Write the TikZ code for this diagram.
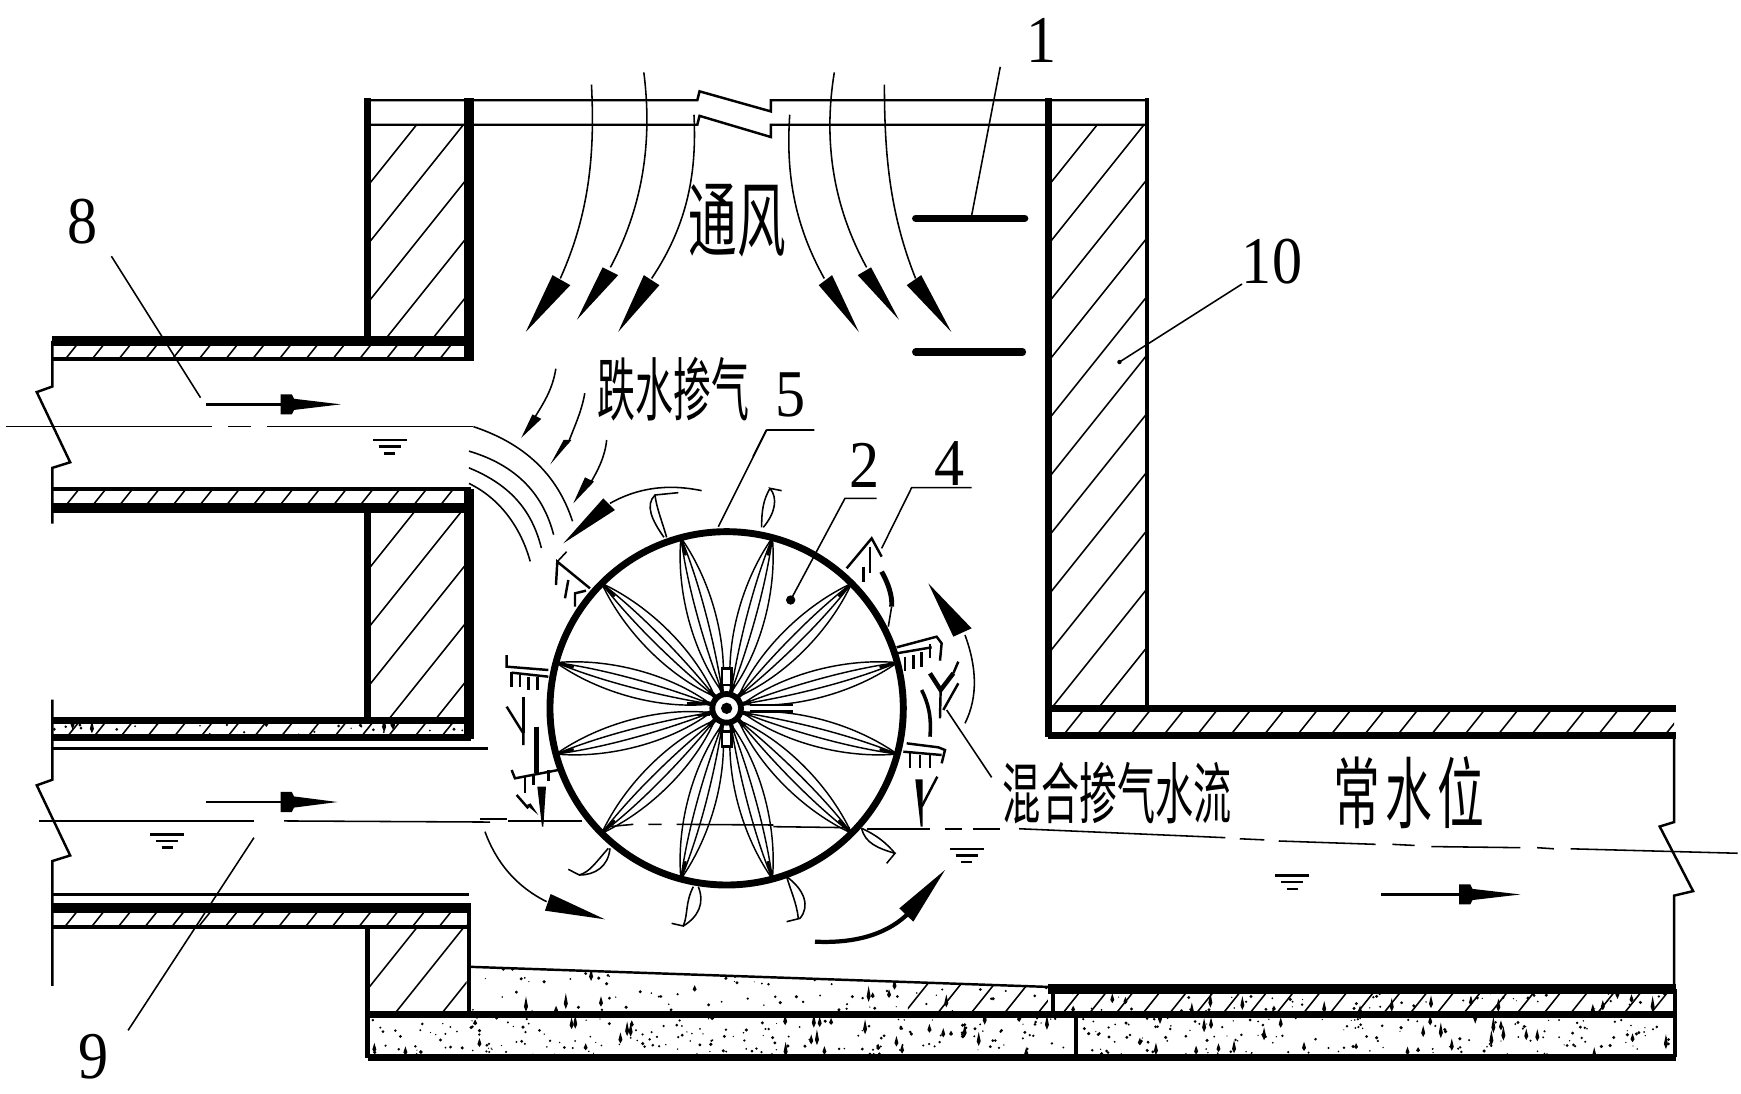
\documentclass[tikz,border=0pt]{standalone}
\usepackage{fontspec}
\setmainfont{Liberation Serif}
\newfontfamily\cjk{Noto Sans CJK SC}
\tikzset{
  wallh/.style={line width=4.2pt},
  wallm/.style={line width=3.2pt},
  medl/.style={line width=1.9pt},
  thinl/.style={line width=1.1pt},
  fine/.style={line width=0.7pt},
  hair/.style={line width=0.65pt},
  num/.style={font=\fontsize{30}{30}\selectfont,inner sep=0pt,xscale=0.9},
  cjklabel/.style={font=\cjk\fontsize{#1}{#1}\selectfont,inner sep=0pt},
}
\newcommand\hatchbox[5]{% x1 y1 x2 y2 step
  \begin{scope}
    \clip (#1,#2) rectangle (#3,#4);
    \pgfmathsetmacro\hstart{#1-(#4-#2)*0.8}
    \pgfmathsetmacro\hnext{\hstart+#5}
    \foreach \s in {\hstart,\hnext,...,#3}{
      \draw[fine] (\s,#4) -- ++({(#4-#2)*0.8},{-(#4-#2)});
    }
  \end{scope}}
\newcommand\stipple[6]{% x1 y1 x2 y2 count bottom-spikes
  \begin{scope}
    \clip (#1,#2) rectangle (#3,#4);
    \foreach \i in {1,...,#5}{
      \pgfmathsetmacro\px{#1+rnd*(#3-#1)}
      \pgfmathsetmacro\py{#2+rnd*(#4-#2)}
      \pgfmathsetmacro\ps{0.5+rnd*1.1}
      \fill (\px,\py) circle[radius=\ps];
    }
    \foreach \i in {1,...,#6}{
      \pgfmathsetmacro\px{#1+rnd*(#3-#1)}
      \pgfmathsetmacro\ph{3+rnd*7}
      \pgfmathsetmacro\py{#2+rnd*(#4-#2)}
      \fill (\px-1.8,\py) -- (\px,\py-\ph) -- (\px+1.8,\py) -- (\px,\py+\ph*0.5) -- cycle;
    }
  \end{scope}}
\newcommand\flowarrow[4]{% start back tip y
  \draw[thinl] (#1,#4) -- (#2,#4);
  \fill (#2,#4-9) -- (#2+10,#4-9) -- (#2+12,#4-5) -- (#3,#4) -- (#2+12,#4+5) -- (#2+10,#4+9) -- (#2,#4+9) -- cycle;}
\newcommand\levelmark[2]{%
  \draw[thinl] (#1-15,#2) -- (#1+15,#2);
  \draw[thinl] (#1-10,#2+6) -- (#1+10,#2+6);
  \draw[thinl] (#1-5,#2+12) -- (#1+5,#2+12);}
\begin{document}
\begin{tikzpicture}[x=0.5pt,y=-0.5pt]
\useasboundingbox (0,0) rectangle (1563,982);
\pgfmathsetseed{4711}

% ---- hatching
\hatchbox{332}{112}{419}{303}{42}
\hatchbox{943}{112}{1028}{635}{42}
\hatchbox{332}{457}{419}{646}{42}
\hatchbox{332}{833}{419}{910}{42}
\hatchbox{47}{307}{419}{321}{24}
\hatchbox{47}{439}{419}{455}{24}
\hatchbox{47}{816}{419}{831}{24}
\hatchbox{47}{648}{419}{661}{24}
\hatchbox{943}{637}{1503}{659}{30}
\hatchbox{945}{891}{1503}{910}{24}
\begin{scope}
  \clip (423,868) -- (941,886) -- (941,910) -- (423,910) -- cycle;
  \hatchbox{815}{868}{941}{910}{30}
  \stipple{423}{868}{941}{910}{90}{14}
\end{scope}
\stipple{945}{891}{1503}{910}{60}{18}
\stipple{332}{914}{964}{948}{200}{34}
\stipple{968}{914}{1503}{948}{170}{28}
\stipple{47}{648}{419}{661}{30}{6}

% ---- shaft walls
\draw[thinl] (330,90) -- (626,90) -- (628,82) -- (692,100) -- (692,90) -- (1030,90);
\draw[thinl] (330,112) -- (626,112) -- (628,104) -- (692,123) -- (692,112) -- (1030,112);
\draw[wallm] (330,88) -- (330,305);
\draw[wallh] (421,88) -- (421,324);
\draw[wallm] (941,88) -- (941,662);
\draw[medl] (1030,88) -- (1030,635);

% ---- upper pipe
\draw[wallh] (47,306) -- (423,306);
\draw[medl] (47,322) -- (421,322);
\draw[thinl] (47,306) -- (47,347) -- (33,352) -- (63,415) -- (47,420) -- (47,470);
\draw[medl] (47,439) -- (423,439);
\draw[wallh] (47,456) -- (423,456);

% ---- middle wall
\draw[wallm] (330,456) -- (330,647);
\draw[wallh] (421,439) -- (421,663);

% ---- lower pipe
\draw[wallm] (47,647) -- (423,647);
\draw[wallm] (47,662) -- (423,662);
\draw[thinl] (47,628) -- (47,700) -- (33,705) -- (63,768) -- (47,773) -- (47,885);
\draw[thinl] (47,672) -- (438,672);
\draw[thinl] (47,803) -- (421,803);
\draw[wallh] (47,815) -- (423,815);
\draw[medl] (47,832) -- (421,832);
\draw[medl] (330,832) -- (330,950);
\draw[medl] (421,815) -- (421,912);

% ---- outlet channel
\draw[wallm] (941,636) -- (1505,636);
\draw[wallm] (941,660) -- (1505,660);
\draw[thinl] (1503,660) -- (1503,738) -- (1490,742) -- (1520,800) -- (1503,804) -- (1503,888);
\draw[wallh] (941,888) -- (1505,888);
\draw[wallm] (330,911) -- (1505,911);
\draw[wallm] (330,949) -- (1505,949);
\draw[medl] (966,911) -- (966,949);
\draw[medl] (945,888) -- (945,911);
\draw[medl] (1504,888) -- (1504,949);
\draw[thinl] (423,868) -- (941,886);

% ---- ventilation plates and leader 1
\draw[wallm,line cap=round] (822,196) -- (920,196);
\draw[wallm,line cap=round] (822,316) -- (918,316);

% ---- air arrows
\draw[fine] (531,76) .. controls (534,135) and (530,190) .. (503,250);
\fill (472,298) -- (496,247) -- (512,256) -- cycle;
\draw[fine] (578,65) .. controls (585,120) and (580,180) .. (548,240);
\fill (518,287) -- (541,240) -- (555,247) -- cycle;
\draw[fine] (623,103) .. controls (626,160) and (615,205) .. (585,250);
\fill (555,298) -- (578,247) -- (592,256) -- cycle;
\draw[fine] (709,103) .. controls (705,160) and (715,205) .. (740,250);
\fill (771,298) -- (747,247) -- (735,256) -- cycle;
\draw[fine] (749,65) .. controls (740,120) and (745,180) .. (778,240);
\fill (807,287) -- (782,240) -- (770,247) -- cycle;
\draw[fine] (794,76) .. controls (794,135) and (798,190) .. (822,250);
\fill (854,298) -- (827,247) -- (814,256) -- cycle;

% ---- water surfaces
\draw[fine] (5,383) -- (190,383);
\draw[fine] (205,383) -- (225,383);
\draw[fine] (240,383) -- (425,383);
\draw[fine] (425,383) .. controls (470,398) and (500,425) .. (514,468);
\draw[fine] (421,405) .. controls (465,418) and (488,445) .. (497,480);
\draw[fine] (421,420) .. controls (460,436) and (478,460) .. (486,492);
\draw[fine] (421,434) .. controls (450,448) and (468,475) .. (476,504);
\draw[fine] (35,737) -- (228,737);
\draw[fine] (255,737) -- (440,738);
\draw[fine] (915,744) -- (1100,752);
\draw[fine] (1113,753) -- (1135,754);
\draw[fine] (1148,755) -- (1235,758);
\draw[fine] (1250,758) -- (1270,759);
\draw[fine] (1285,760) -- (1365,761);
\draw[fine] (1380,761) -- (1395,762);
\draw[fine] (1410,762) -- (1560,766);
\levelmark{350}{395}
\levelmark{150}{749}
\levelmark{868}{762}
\levelmark{1160}{786}

% ---- flow arrows
\flowarrow{185}{252}{306}{363}
\flowarrow{185}{252}{303}{720}
\flowarrow{1240}{1310}{1365}{803}

% ---- small arrows on the falling jet
\draw[fine] (499,331) .. controls (496,350) and (488,362) .. (478,378);
\fill (468,393) -- (478,372) -- (486,376) -- cycle;
\draw[fine] (525,353) .. controls (522,370) and (516,382) .. (510,398);
\fill (494,417) -- (506,395) -- (513,395) -- cycle;

% ---- wheel, drawn in its own unit
\begin{scope}[shift={(430.9,395)},x=0.14963pt,y=-0.14963pt]
  \foreach \a in {15,45,...,345}{
    \draw[hair,rotate around={\a:(740,805)}] (790,805) .. controls (930,860) and (1120,860) .. (1270,805);
    \draw[hair,rotate around={\a:(740,805)}] (790,805) .. controls (930,750) and (1120,750) .. (1270,805);
    \draw[hair,rotate around={\a:(740,805)}] (790,805) .. controls (930,820) and (1120,825) .. (1270,805);
    \draw[hair,rotate around={\a:(740,805)}] (790,805) .. controls (930,790) and (1120,785) .. (1270,805);
    \draw[medl,rotate around={\a:(740,805)}] (780,805) -- (815,805);
    \draw[thinl,rotate around={\a:(740,805)}] (1215,805) -- (1268,805);
  }
  \draw[line width=3.1pt] (740,805) circle[radius=530];
  \draw[line width=2.6pt,fill=white] (740,805) circle[radius=43];
  \fill (740,805) circle[radius=17];
  \draw[thinl,fill=white] (726,685) rectangle (754,735);
  \draw[thinl,fill=white] (726,875) rectangle (754,920);
  \draw[thinl] (810,795) -- (940,795) (810,815) -- (940,815);
  \draw[thinl] (620,790) -- (690,790) (650,825) -- (690,825);
  % outer blades
  \draw[fine] (552,292) .. controls (515,240) and (495,195) .. (525,165) -- (595,158);
  \draw[fine] (560,292) .. controls (545,240) and (530,205) .. (525,165);
  \draw[fine] (850,262) .. controls (885,220) and (895,175) .. (870,145) -- (905,152);
  \draw[fine] (845,262) .. controls (845,210) and (850,180) .. (870,145);
  \draw[fine] (385,1225) .. controls (345,1270) and (330,1295) .. (298,1305) -- (265,1288);
  \draw[fine] (390,1225) .. controls (385,1280) and (345,1305) .. (298,1305);
  \draw[fine] (640,1340) .. controls (615,1390) and (625,1420) .. (610,1458) -- (575,1450);
  \draw[fine] (655,1340) .. controls (675,1390) and (655,1430) .. (610,1458);
  \draw[fine] (920,1310) .. controls (975,1350) and (990,1400) .. (960,1435) -- (920,1445);
  \draw[fine] (920,1310) .. controls (935,1360) and (950,1390) .. (955,1435);
  \draw[fine] (1145,1165) .. controls (1155,1210) and (1195,1225) .. (1245,1240) -- (1220,1270);
  \draw[fine] (1145,1165) .. controls (1190,1185) and (1220,1210) .. (1245,1240);
  % combs
  \draw[thinl] (330,445) -- (232,365) -- (228,435);
  \draw[fine] (232,365) -- (260,335);
  \draw[thinl] (265,420) -- (255,475) (318,452) -- (285,460) -- (285,500);
  \draw[thinl] (1100,385) -- (1175,295) -- (1205,350);
  \draw[thinl] (1150,380) -- (1150,425) (1170,320) -- (1170,400);
  \draw[line width=2.2pt] (1205,395) .. controls (1225,430) and (1238,470) .. (1235,500);
  \draw[fine] (1235,500) -- (1225,560);
  \draw[thinl] (1250,622) -- (1370,590) -- (1385,610) -- (1380,662);
  \draw[thinl] (1250,640) -- (1355,622);
  \draw[thinl] (1275,650) -- (1275,692) (1300,645) -- (1300,688) (1325,635) -- (1325,682) (1350,612) -- (1350,655);
  \draw[thinl] (1280,910) -- (1375,922) -- (1395,930) -- (1385,970);
  \draw[thinl] (1290,940) -- (1290,985) (1320,945) -- (1320,985) (1350,942) -- (1350,985);
  \draw[thinl] (1270,935) -- (1385,945);
  \draw[thinl] (80,645) -- (80,680) -- (205,690);
  \draw[thinl] (95,698) -- (205,710);
  \draw[thinl] (95,695) -- (95,742) (120,705) -- (120,742) (145,710) -- (145,750) (172,712) -- (172,750);
  \draw[thinl] (95,990) -- (105,1015) -- (235,990);
  \draw[thinl] (135,1012) -- (135,1060) (160,1005) -- (160,1035) (205,990) -- (205,1022);
  % drips
  \draw[line width=1.6pt] (130,770) -- (130,880);
  \draw[thinl] (80,800) -- (130,880) -- (130,915);
  \draw[line width=2.2pt] (170,860) -- (170,1000);
  \fill (172,1040) -- (198,1040) -- (190,1160) -- (186,1160) -- cycle;
  \fill (140,1095) -- (152,1090) -- (175,1125) -- cycle;
  \draw[thinl] (110,1065) -- (145,1105);
  \draw[line width=1.6pt] (1325,750) .. controls (1345,790) and (1355,830) .. (1350,890);
  \draw[line width=2pt] (1350,700) -- (1382,750) -- (1420,700);
  \draw[thinl] (1382,750) -- (1380,835) (1435,730) -- (1390,810) (1420,700) -- (1435,665);
  \fill (1306,1018) -- (1328,1018) -- (1328,1160) -- (1322,1160) -- cycle;
  \draw[thinl] (1325,1100) -- (1372,1010);
  % big circulation arrows
  \draw[fine] (665,152) .. controls (560,130) and (470,145) .. (390,190);
  \fill (250,310) -- (370,175) -- (405,210) -- cycle;
  \draw[fine] (15,1175) .. controls (50,1270) and (110,1340) .. (200,1385);
  \fill (375,1438) -- (212,1362) -- (195,1412) -- cycle;
  \draw[medl] (1005,1505) .. controls (1110,1510) and (1210,1490) .. (1280,1425);
  \fill (1395,1290) -- (1258,1405) -- (1300,1445) -- cycle;
  \draw[fine] (1455,585) .. controls (1490,680) and (1495,770) .. (1455,850);
  \fill (1345,430) -- (1475,565) -- (1420,590) -- cycle;
  % third small jet arrow
  \draw[fine] (380,0) .. controls (375,50) and (355,90) .. (325,140);
  \fill (280,190) -- (315,112) -- (342,125) -- cycle;
  % water line through the wheel
  \draw[fine] (0,1137) -- (80,1137) (85,1143) -- (305,1143);
  \draw[fine] (385,1160) -- (460,1153) (505,1153) -- (545,1153) (590,1153) -- (880,1155) (880,1160) -- (1110,1163);
  \draw[thinl] (1160,1167) -- (1350,1167) (1395,1167) -- (1445,1167) (1480,1167) -- (1560,1167);
  \coordinate (hubdot) at (932,480);
  \fill (hubdot) circle[radius=14];
  % leaders of 2, 4, 5
  \coordinate (leadtwoa) at (1190,175);
  \coordinate (leadtwob) at (1095,175);
  \draw[fine] (leadtwoa) -- (leadtwob) -- (hubdot);
  \coordinate (leadfoura) at (1475,143);
  \coordinate (leadfourb) at (1295,143);
  \coordinate (leadfourc) at (1205,325);
  \draw[fine] (leadfoura) -- (leadfourb) -- (leadfourc);
  \coordinate (leadfivea) at (715,260);
  \coordinate (leadfiveb) at (860,-30);
  \draw[fine] (leadfivea) -- (leadfiveb);
  \coordinate (leadmix) at (1400,810);
  \coordinate (leadmixb) at (1535,1012);
  \draw[fine] (leadmix) -- (leadmixb);
\end{scope}
\draw[fine] (688,386) -- (731,386) (688,386) -- (676,410);

% ---- numerals
\node[num] (n1) at (935,36) {1};
\node[num] (n8) at (74,199) {8};
\node[num] (n9) at (84,949) {9};
\node[num] (n10) at (1142,235) {10};
\node[num] (n5) at (710,355) {5};
\node[num] (n2) at (776,418) {2};
\node[num] (n4) at (852,416) {4};
\draw[fine] (898,60) -- (872,195);
\draw[fine] (100,230) -- (180,357);
\draw[fine] (115,925) -- (228,752);
\draw[fine] (1115,255) -- (1005,325);
\fill (1005,325) circle[radius=2];

% ---- Chinese labels
\node[cjklabel=37,xscale=0.59] (vent) at (662,198) {通风};
\node[cjklabel=31,xscale=0.55] (jump) at (605,349) {跌水掺气};
\node[cjklabel=30,xscale=0.57] (mix) at (1003,712) {混合掺气水流};
\node[cjklabel=35,xscale=0.6] (norm) at (1265,712) {常\hspace{4pt}水\hspace{4pt}位};
\end{tikzpicture}
\end{document}
